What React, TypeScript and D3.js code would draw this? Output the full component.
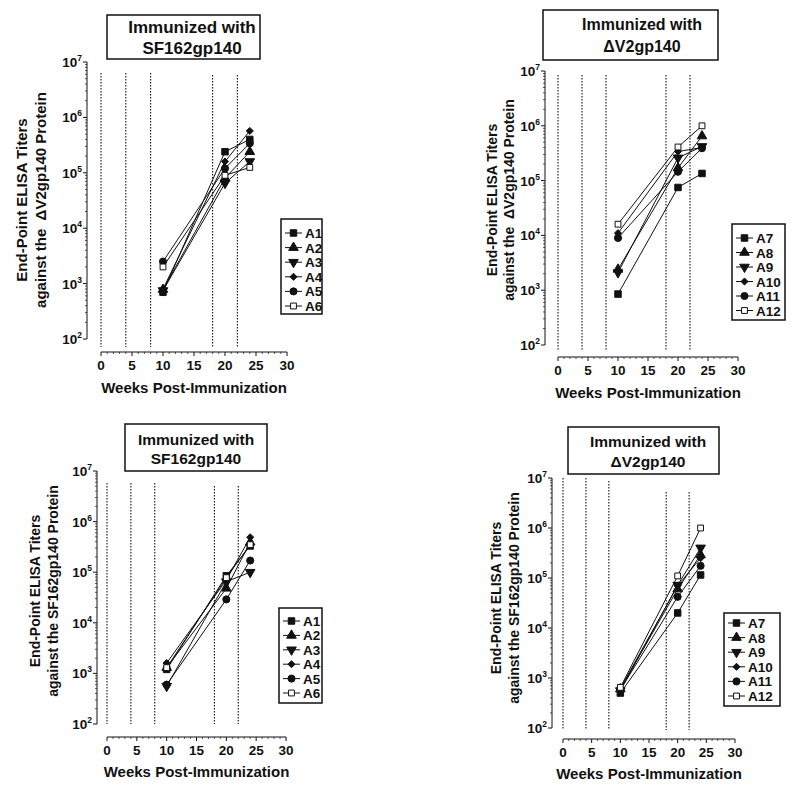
import React, { useEffect, useRef } from 'react';
import * as d3 from 'd3';

const weeks = [10, 20, 24];
const boostWeeks = [0, 4, 8, 18, 22];
const xTicks = [0, 5, 10, 15, 20, 25, 30];
const yExps = [2, 3, 4, 5, 6, 7];

const groupA = ['A1', 'A2', 'A3', 'A4', 'A5', 'A6'];
const groupB = ['A7', 'A8', 'A9', 'A10', 'A11', 'A12'];
const markers = ['square', 'triangle', 'triangleDown', 'diamond', 'circle', 'openSquare'];

// titers per animal at weeks 10, 20, 24
const tlValues = [
  [700, 2.4e5, 4.0e5],
  [780, 8.0e4, 2.4e5],
  [750, 6.5e4, 1.6e5],
  [800, 1.6e5, 5.7e5],
  [2500, 1.2e5, 3.4e5],
  [2000, 9.0e4, 1.25e5],
];
const trValues = [
  [850, 7.5e4, 1.35e5],
  [2400, 1.7e5, 6.5e5],
  [2100, 2.6e5, 4.2e5],
  [1.1e4, 3.4e5, 4.0e5],
  [9000, 1.45e5, 3.9e5],
  [1.6e4, 4.1e5, 1.0e6],
];
const blValues = [
  [1200, 8.5e4, 3.3e5],
  [1300, 4.8e4, 3.9e5],
  [560, 6.5e4, 1.0e5],
  [1600, 7.0e4, 4.9e5],
  [600, 2.9e4, 1.7e5],
  [1300, 7.8e4, 3.5e5],
];
const brValues = [
  [500, 2.0e4, 1.15e5],
  [600, 6.0e4, 2.9e5],
  [560, 7.2e4, 4.0e5],
  [620, 7.0e4, 2.5e5],
  [580, 4.2e4, 1.75e5],
  [650, 1.1e5, 1.0e6],
];

const xTitle = 'Weeks Post-Immunization';
const yLine1 = 'End-Point ELISA Titers';

const panels = [
  {
    values: tlValues, names: groupA, title: ['Immunized with', 'SF162gp140'], yLine2: 'against the  \u0394V2gp140 Protein',
    axX: 87, yTop: 62, yBot: 339, xL: 101, xR: 287, axY: 352, vTop: [73, 73, 73, 75, 75], vBot: 347,
    box: { x: 107, y: 15, w: 153, h: 44, cx: 192, b1: 33, b2: 54, fs: 17 },
    ylab: { x1: 22, x2: 41, cy: 200, fs: 15 },
    leg: { x: 281, y: 219, w: 41, h: 95, r0: 233, dy: 14.6 },
    tickY: 370, titleY: 393,
  },
  {
    values: trValues, names: groupB, title: ['Immunized with', '\u0394V2gp140'], yLine2: 'against the  \u0394V2gp140 Protein',
    axX: 545, yTop: 71, yBot: 345, xL: 558, xR: 738, axY: 357, vTop: [75, 75, 75, 75, 75], vBot: 350,
    box: { x: 543, y: 10, w: 175, h: 50, cx: 642, b1: 30, b2: 52, fs: 16 },
    ylab: { x1: 492, x2: 509, cy: 200, fs: 14 },
    leg: { x: 732, y: 224, w: 53, h: 96, r0: 238, dy: 14.5 },
    tickY: 375, titleY: 398,
  },
  {
    values: blValues, names: groupA, title: ['Immunized with', 'SF162gp140'], yLine2: 'against the SF162gp140 Protein',
    axX: 97, yTop: 471, yBot: 724, xL: 107, xR: 286, axY: 737, vTop: [483, 483, 483, 486, 486], vBot: 724,
    box: { x: 125, y: 424, w: 142, h: 47, cx: 196, b1: 445, b2: 464, fs: 15.5 },
    ylab: { x1: 35, x2: 53, cy: 591, fs: 14 },
    leg: { x: 279, y: 608, w: 43, h: 95, r0: 621, dy: 14.4 },
    tickY: 755, titleY: 777,
  },
  {
    values: brValues, names: groupB, title: ['Immunized with', '\u0394V2gp140'], yLine2: 'against the SF162gp140 Protein',
    axX: 552, yTop: 478, yBot: 728, xL: 563, xR: 735, axY: 739, vTop: [478, 478, 481, 492, 492], vBot: 730,
    box: { x: 568, y: 427, w: 151, h: 47, cx: 648, b1: 447, b2: 467, fs: 15.5 },
    ylab: { x1: 496, x2: 514, cy: 598, fs: 14 },
    leg: { x: 724, y: 613, w: 56, h: 93, r0: 623, dy: 14.6 },
    tickY: 757, titleY: 779,
  },
];

const FONT = '"Liberation Sans", Arial, sans-serif';

const drawMarker = (g, kind, x, y) => {
  let type = d3.symbolSquare;
  let size = 42;
  let rot = 0;
  if (kind === 'triangle') { type = d3.symbolTriangle; size = 40; }
  if (kind === 'triangleDown') { type = d3.symbolTriangle; size = 40; rot = 180; }
  if (kind === 'diamond') { type = d3.symbolDiamond2; size = 32; }
  if (kind === 'circle') { type = d3.symbolCircle; size = 40; }
  if (kind === 'openSquare') { size = 34; }
  g.append('path')
    .attr('d', d3.symbol().type(type).size(size)())
    .attr('transform', `translate(${x},${y}) rotate(${rot})`)
    .attr('fill', kind === 'openSquare' ? '#fff' : '#111')
    .attr('stroke', '#111')
    .attr('stroke-width', 1);
};

const Chart = () => {
  const svgRef = useRef(null);

  useEffect(() => {
    const svg = d3.select(svgRef.current);
    svg.selectAll('*').remove();

    panels.forEach(p => {
      const g = svg.append('g').attr('font-family', FONT).attr('font-weight', 'bold').attr('fill', '#111');
      const x = d3.scaleLinear().domain([0, 30]).range([p.xL, p.xR]);
      const y = d3.scaleLog().domain([1e2, 1e7]).range([p.yBot, p.yTop]);

      // immunization markers
      boostWeeks.forEach((w, i) => {
        g.append('line')
          .attr('x1', x(w)).attr('x2', x(w))
          .attr('y1', p.vTop[i]).attr('y2', p.vBot)
          .attr('stroke', '#111').attr('stroke-width', 1.1)
          .attr('stroke-dasharray', '1.5,1.5');
      });

      // y axis
      g.append('line').attr('x1', p.axX).attr('x2', p.axX).attr('y1', p.yTop).attr('y2', p.yBot)
        .attr('stroke', '#111').attr('stroke-width', 1);
      yExps.forEach(e => {
        const v = Math.pow(10, e);
        g.append('line').attr('x1', p.axX - 4).attr('x2', p.axX).attr('y1', y(v)).attr('y2', y(v))
          .attr('stroke', '#111');
        if (e < 7) {
          d3.range(2, 10).forEach(m => {
            const yy = y(m * v);
            g.append('line').attr('x1', p.axX - 2).attr('x2', p.axX).attr('y1', yy).attr('y2', yy)
              .attr('stroke', '#111').attr('stroke-width', 0.7);
          });
        }
        const t = g.append('text').attr('x', p.axX - 5).attr('y', y(v) + 5)
          .attr('text-anchor', 'end').attr('font-size', 13.5);
        t.append('tspan').text('10');
        t.append('tspan').attr('font-size', 8.5).attr('dy', -6).text(String(e));
      });

      // x axis
      g.append('line').attr('x1', x(0)).attr('x2', x(30)).attr('y1', p.axY).attr('y2', p.axY)
        .attr('stroke', '#111');
      d3.range(0, 31).forEach(w => {
        const major = w % 5 === 0;
        g.append('line').attr('x1', x(w)).attr('x2', x(w)).attr('y1', p.axY).attr('y2', p.axY + (major ? 4 : 2))
          .attr('stroke', '#111').attr('stroke-width', major ? 1 : 0.7);
      });
      xTicks.forEach(w => {
        g.append('text').attr('x', x(w)).attr('y', p.tickY).attr('text-anchor', 'middle')
          .attr('font-size', 13.5).text(String(w));
      });
      g.append('text').attr('x', (x(0) + x(30)) / 2).attr('y', p.titleY).attr('text-anchor', 'middle')
        .attr('font-size', 15).text(xTitle);

      // y title
      [yLine1, p.yLine2].forEach((s, i) => {
        const xx = i === 0 ? p.ylab.x1 : p.ylab.x2;
        g.append('text')
          .attr('transform', `translate(${xx + p.ylab.fs * 0.36},${p.ylab.cy}) rotate(-90)`)
          .attr('text-anchor', 'middle').attr('font-size', p.ylab.fs)
          .attr('xml:space', 'preserve').style('white-space', 'pre')
          .text(s);
      });

      // title box
      g.append('rect').attr('x', p.box.x).attr('y', p.box.y).attr('width', p.box.w).attr('height', p.box.h)
        .attr('fill', '#fff').attr('stroke', '#111').attr('stroke-width', 1.5);
      g.append('text').attr('x', p.box.cx).attr('y', p.box.b1).attr('text-anchor', 'middle')
        .attr('font-size', p.box.fs).text(p.title[0]);
      g.append('text').attr('x', p.box.cx).attr('y', p.box.b2).attr('text-anchor', 'middle')
        .attr('font-size', p.box.fs).text(p.title[1]);

      // series
      const line = d3.line().x((d, i) => x(weeks[i])).y(d => y(d));
      p.values.forEach(vals => {
        g.append('path').attr('d', line(vals)).attr('fill', 'none').attr('stroke', '#111').attr('stroke-width', 1);
      });
      p.values.forEach((vals, si) => {
        vals.forEach((v, i) => drawMarker(g, markers[si], x(weeks[i]), y(v)));
      });

      // legend
      g.append('rect').attr('x', p.leg.x).attr('y', p.leg.y).attr('width', p.leg.w).attr('height', p.leg.h)
        .attr('fill', '#fff').attr('stroke', '#111').attr('stroke-width', 1.5);
      p.names.forEach((n, i) => {
        const ry = p.leg.r0 + i * p.leg.dy;
        g.append('line').attr('x1', p.leg.x + 4).attr('x2', p.leg.x + 21).attr('y1', ry).attr('y2', ry)
          .attr('stroke', '#111');
        drawMarker(g, markers[i], p.leg.x + 12.5, ry);
        g.append('text').attr('x', p.leg.x + 24).attr('y', ry + 5).attr('font-size', 13.5).text(n);
      });
    });
  }, []);

  return <svg ref={svgRef} width={794} height={791} style={{ position: 'absolute', left: 0, top: 0, background: '#fff' }} />;
};

export default function App() {
  return <Chart />;
}
